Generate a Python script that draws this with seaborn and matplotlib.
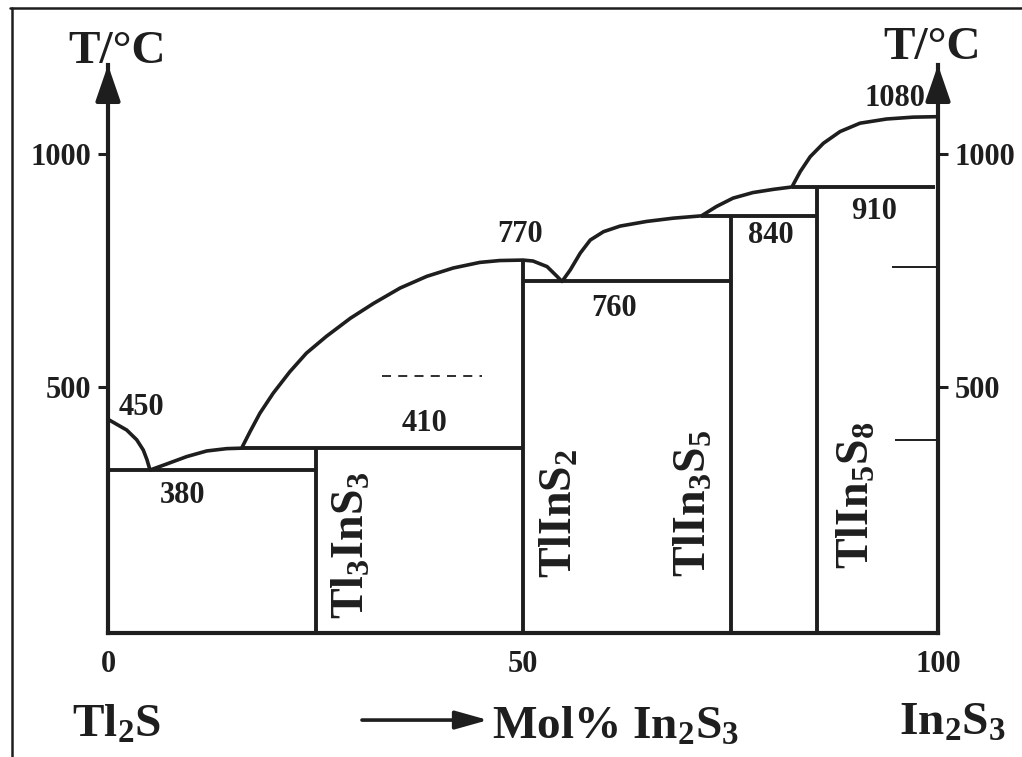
import matplotlib
matplotlib.use("Agg")
import matplotlib.pyplot as plt
import seaborn as sns
from matplotlib.lines import Line2D

sns.set_theme(style="white")
plt.rcParams['font.family'] = ['Liberation Serif', 'DejaVu Serif']
plt.rcParams['font.weight'] = 'bold'
plt.rcParams['mathtext.fontset'] = 'custom'
plt.rcParams['mathtext.rm'] = 'Liberation Serif:bold'
plt.rcParams['mathtext.it'] = 'Liberation Serif:bold'
plt.rcParams['mathtext.bf'] = 'Liberation Serif:bold'
plt.rcParams['mathtext.default'] = 'rm'

INK = "#1e1e1e"

# -------------------------------
# Data
# -------------------------------
# liquidus, one continuous curve from Tl2S to In2S3
liq_x = [0, 2.25, 3.46, 4.25, 4.7, 5.06,
         7.07, 9.5, 11.9, 14.3, 16.1,
         17.1, 18.3, 19.9, 21.9, 23.9, 26.3, 29.2, 32.0, 35.2, 38.4, 41.6, 44.8, 47.2, 50.0,
         51.2, 52.9, 54.1, 54.7,
         55.7, 56.9, 58.1, 59.7, 61.7, 64.9, 68.1, 71.5,
         73.3, 75.3, 77.7, 80.2, 82.4,
         83.4, 84.6, 86.2, 88.2, 90.6, 93.8, 97.0, 100]
liq_T = [430, 407, 386, 364, 343, 321,
         334, 350, 362, 367, 368,
         403, 443, 486, 532, 572, 608, 647, 679, 712, 737, 755, 767, 771, 772,
         770, 758, 737, 726,
         751, 787, 815, 833, 845, 855, 862, 867,
         887, 905, 917, 924, 929,
         962, 994, 1023, 1048, 1066, 1075, 1079, 1080]

# invariant (horizontal) lines
inv_T = [321, 368, 726, 867, 929]
inv_x0 = [0, 16.1, 50, 71.5, 82.4]
inv_x1 = [25, 50, 75, 85.4, 99.6]

# compounds (vertical lines)
comp_x = [25, 50, 75, 85.4]
comp_top = [368, 772, 867, 929]
comp_labels = ['Tl$_3$InS$_3$', 'TlInS$_2$', 'TlIn$_3$S$_5$', 'TlIn$_5$S$_8$']
comp_label_x = [29.5, 54.5, 70.7, 90.3]
comp_label_T = [160, 229, 250, 267]

# temperature annotations
temp_text = ['450', '380', '410', '770', '760', '840', '910', '1080']
temp_x = [4.0, 9.0, 38.1, 49.6, 61.0, 79.8, 92.3, 94.8]
temp_T = [456, 267, 421, 828, 667, 824, 876, 1118]

# dashed line and short marks on the right axis
dash_x = [33.0, 45.0]
dash_T = 522
mark_T = [758, 386]
mark_x0 = [94.4, 94.8]

x_ticks = [0, 50, 100]
y_ticks = [500, 1000]
T_min, T_max = -29, 1191

# -------------------------------
# Figure
# -------------------------------
fig = plt.figure(figsize=(10.22, 7.57), dpi=100)
W, H = 1022, 757
ax = fig.add_axes([108 / W, (H - 633) / H, 830 / W, (633 - 65) / H])
ax.set_xlim(0, 100)
ax.set_ylim(T_min, T_max)

sns.lineplot(x=liq_x, y=liq_T, ax=ax, color=INK, lw=2.6, sort=False,
             estimator=None, solid_joinstyle='round')
ax.hlines(inv_T, inv_x0, inv_x1, color=INK, lw=2.8)
ax.vlines(comp_x, T_min, comp_top, color=INK, lw=2.8)
ax.hlines(dash_T, dash_x[0], dash_x[1], color=INK, lw=1.3, linestyles=(0, (5, 4)))
ax.hlines(mark_T, mark_x0, 100, color=INK, lw=1.4)

for lab, x, t in zip(comp_labels, comp_label_x, comp_label_T):
    ax.text(x, t, lab, rotation=90, ha='center', va='center', fontsize=33,
            fontweight='bold', color=INK)
for lab, x, t in zip(temp_text, temp_x, temp_T):
    ax.text(x, t, lab, ha='center', va='center', fontsize=22,
            fontweight='bold', color=INK)

# axes styling
ax.spines['top'].set_visible(False)
for s in ['left', 'right', 'bottom']:
    ax.spines[s].set_visible(True)
    ax.spines[s].set_color(INK)
    ax.spines[s].set_linewidth(3)
ax.grid(False)
ax.set_xticks(x_ticks)
ax.set_xticklabels([str(v) for v in x_ticks])
ax.set_yticks(y_ticks)
ax.set_yticklabels([str(v) for v in y_ticks])
ax.tick_params(axis='x', length=0, pad=12, labelsize=22, colors=INK)
ax.tick_params(axis='y', direction='out', length=7, width=2.2, pad=5,
               labelsize=22, colors=INK, left=True, right=True,
               labelleft=True, labelright=True)
for lbl in ax.get_xticklabels() + ax.get_yticklabels():
    lbl.set_fontweight('bold')

# arrow heads on the temperature axes
for xa in [0, 1]:
    ax.annotate('', xy=(xa, 1.0), xycoords='axes fraction',
                xytext=(xa, 0.94), textcoords='axes fraction',
                arrowprops=dict(arrowstyle='-|>,head_length=1.1,head_width=0.38',
                                mutation_scale=20, color=INK, lw=3,
                                shrinkA=0, shrinkB=0),
                annotation_clip=False)

# axis titles
ax.text(-4.8, 1196, 'T/°C', ha='left', va='baseline', fontsize=34,
        fontweight='bold', color=INK, clip_on=False)
ax.text(93.4, 1203, 'T/°C', ha='left', va='baseline', fontsize=34,
        fontweight='bold', color=INK, clip_on=False)
ax.text(-4.3, -252, 'Tl$_2$S', ha='left', va='baseline', fontsize=34,
        fontweight='bold', color=INK, clip_on=False)
ax.text(46.3, -257, 'Mol% In$_2$S$_3$', ha='left', va='baseline', fontsize=34,
        fontweight='bold', color=INK, clip_on=False)
ax.text(95.3, -248, 'In$_2$S$_3$', ha='left', va='baseline', fontsize=34,
        fontweight='bold', color=INK, clip_on=False)
ax.annotate('', xy=(45.8, -216), xytext=(30.6, -216),
            arrowprops=dict(arrowstyle='-|>,head_length=1.0,head_width=0.28',
                            mutation_scale=20, color=INK, lw=2.6,
                            shrinkA=0, shrinkB=0),
            annotation_clip=False)

# outer frame (top and left edges visible in the scan)
fig.add_artist(Line2D([10 / W, 1.0], [1 - 8 / H, 1 - 8 / H], color=INK, lw=1.8))
fig.add_artist(Line2D([12 / W, 12 / W], [0, 1 - 8 / H], color=INK, lw=1.8))

fig.savefig("out.png", dpi=100, facecolor='white')
